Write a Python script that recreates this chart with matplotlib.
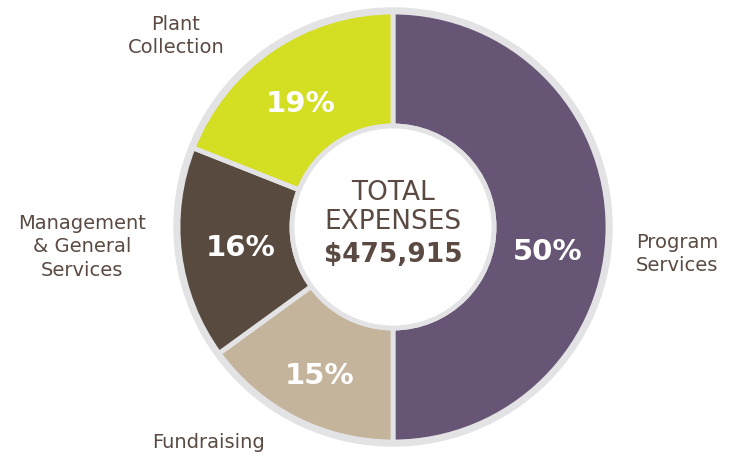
import matplotlib.pyplot as plt
from matplotlib.patches import Circle

# expense shares, clockwise from the top
categories = ['Program\nServices', 'Fundraising', 'Management\n& General\nServices', 'Plant\nCollection']
shares = [50, 15, 16, 19]
pct_labels = ['50%', '15%', '16%', '19%']
colors = ['#665574', '#c4b49c', '#584a3f', '#d4de23']
total_text = '$475,915'

plt.rcParams['font.family'] = ['DejaVu Sans']
text_color = '#5a4a42'
gray = '#e3e3e5'

fig = plt.figure(figsize=(7.34, 4.56), dpi=100)
ax = fig.add_axes([0, 0, 1, 1])

cx, cy = 393, 228
r_out = 215
r_in = 101

# gray backing disc gives the outer rim
ax.add_patch(Circle((cx, cy), r_out + 4, color=gray, zorder=0))

wedges, _ = ax.pie(shares, colors=colors, startangle=90, counterclock=False,
                   center=(cx, cy), radius=r_out, frame=True,
                   wedgeprops=dict(width=r_out - r_in, edgecolor=gray, linewidth=3.5))
ax.set_xlim(0, 734)
ax.set_ylim(0, 456)
ax.set_aspect('equal')
ax.axis('off')

# white hole with gray ring
ax.add_patch(Circle((cx, cy), r_in, facecolor='white', edgecolor=gray, linewidth=3.5, zorder=5))

# percentage labels inside the ring
pct_pos = [(548, 204), (320, 80), (241, 208), (301, 352)]
for (x, y), t in zip(pct_pos, pct_labels):
    ax.text(x, y, t, color='white', fontsize=21, fontweight='bold', ha='center', va='center', zorder=6)

# category labels outside
lab = dict(color=text_color, fontsize=14, linespacing=1.3, va='center', ha='center')
ax.text(677, 202, categories[0], **lab)
ax.text(209, 13, categories[1], **lab)
ax.text(82, 209, categories[2], **lab)
ax.text(176, 420, categories[3], **lab)

# center text
ax.text(cx, 263, 'TOTAL', color=text_color, fontsize=19, ha='center', va='center', zorder=6)
ax.text(cx, 234, 'EXPENSES', color=text_color, fontsize=19, ha='center', va='center', zorder=6)
ax.text(cx, 201, total_text, color=text_color, fontsize=19, fontweight='bold', ha='center', va='center', zorder=6)

plt.savefig('out.png', dpi=100)
